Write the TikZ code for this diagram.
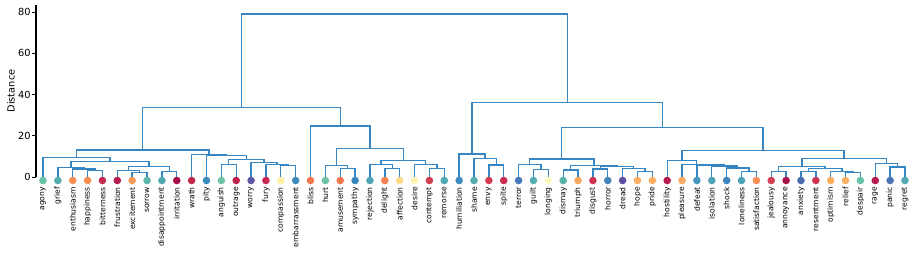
\documentclass[tikz,border=0pt]{standalone}
\usepackage{fontspec}
\setmainfont{DejaVu Sans}
\usetikzlibrary{calc}
\definecolor{linkblue}{HTML}{3586C2}
\begin{document}
\begin{tikzpicture}[x=14.862pt, y=2.0625pt,
        link/.style={linkblue, line width=1.35pt},
        leafdot/.style={circle, inner sep=0pt, minimum size=7.6pt},
        leaflabel/.style={rotate=90, anchor=east, inner sep=0pt, font=\fontsize{7.6}{9}\selectfont},
        ticklabel/.style={anchor=east, inner sep=0pt, font=\fontsize{9.8}{11}\selectfont}]
        \useasboundingbox (-43pt,-75pt) rectangle (875pt,177pt);
        % Draw the distance axis
        \draw[line width=1.2pt] ([xshift=-7pt]0,0) -- ([xshift=-7pt]0,83.4);
        \foreach \t in {0,20,...,80}
            \draw[line width=0.9pt] ([xshift=-7pt]0,\t) -- ([xshift=-10.5pt]0,\t) node[ticklabel, xshift=-1.5pt] (tick\t) {\t};
        \node[rotate=90, font=\fontsize{9.8}{11}\selectfont] (axislabel) at ([xshift=-32pt]0,41.7) {Distance};
        % Draw the leaves
        \foreach \w/\col [count=\i from 0] in {agony/66C2A5, grief/54AEAE, enthusiasm/F98E52, happiness/F98E52,
            bitterness/C2294E, frustration/B81B4D, excitement/FB9A57, sorrow/5BB8A8, disappointment/4EA8B0,
            irritation/A50E46, wrath/C2264F, pity/3A8CBD, anguish/6CC4A5, outrage/BE214E, worry/5E57A6,
            fury/C8284F, compassion/FEF1A6, embarrassment/3C8BBD, bliss/F4764A, hurt/6CC4A5, amusement/F47A4C,
            sympathy/3A86BE, rejection/4EA6B4, delight/F6804E, affection/FDD98A, desire/FFF5B0, contempt/D23C50,
            remorse/4FAAB3, humiliation/3A8BBE, shame/55ADB0, envy/D43D51, spite/C92D50, terror/4579B8,
            guilt/55ADB0, longing/FDFCC0, dismay/5AB3AA, triumph/FCA55F, disgust/CF3550, horror/4482BA,
            dread/5E4FA2, hope/FDAE61, pride/FDAE61, hostility/B81B4D, pleasure/FCA962, defeat/4797BB,
            isolation/4EA6B4, shock/3F84BC, loneliness/4AA2B6, satisfaction/F98D56, jealousy/D43E52,
            annoyance/A91249, anxiety/4D6DB1, resentment/CD3451, optimism/FDAE61, relief/FDB164,
            despair/66C2A5, rage/B81B4D, panic/4A74B5, regret/52ABB1}{
            \definecolor{leafcol}{HTML}{\col}
            \coordinate (\w) at (\i,0);
            \node[leafdot, fill=leafcol] (\w-dot) at ([yshift=-3.5pt]\w) {};
            \node[leaflabel] (\w-label) at ([yshift=-10pt]\w) {\w};
        }
        % Draw the merges, lower ones first
        \foreach \mg/\ca/\cb/\lv in {m1/happiness/bitterness/3.1, m2/enthusiasm/m1/3.9, m3/grief/m2/4.7,
            m4/excitement/sorrow/2.3, m5/frustration/m4/3.1, m6/disappointment/irritation/2.6, m7/m5/m6/5.0,
            m8/m3/m7/7.6, m9/agony/m8/9.4, m10/compassion/embarrassment/5.5, m11/fury/m10/6.2,
            m12/worry/m11/7.1, m13/anguish/outrage/6.0, m14/m13/m12/8.6, m15/pity/m14/10.3,
            m16/wrath/m15/11.0, m17/m9/m16/13.1, m18/amusement/sympathy/4.0, m19/hurt/m18/5.5,
            m20/delight/affection/4.2, m21/rejection/m20/6.1, m22/contempt/remorse/4.2, m23/desire/m22/6.2,
            m24/m21/m23/7.9, m25/m19/m24/13.9, m26/bliss/m25/24.7, m27/m17/m26/33.6,
            m28/envy/spite/5.8, m29/shame/m28/9.0, m30/humiliation/m29/11.1,
            m31/guilt/longing/3.6, m32/terror/m31/6.0, m33/dismay/triumph/3.4, m34/disgust/horror/3.9,
            m35/hope/pride/2.6, m36/dread/m35/4.2, m37/m34/m36/5.2, m38/m33/m37/5.7, m39/m32/m38/8.8,
            m40/loneliness/satisfaction/2.6, m41/shock/m40/4.4, m42/isolation/m41/5.3, m43/defeat/m42/5.8,
            m44/pleasure/m43/6.2, m45/hostility/m44/7.9, m46/jealousy/annoyance/2.6,
            m47/anxiety/resentment/2.6, m48/relief/despair/2.2, m49/optimism/m48/2.8, m50/m47/m49/4.0,
            m51/m46/m50/5.0, m52/panic/regret/4.8, m53/rage/m52/6.5, m54/m51/m53/9.0, m55/m45/m54/12.8,
            m56/m39/m55/24.1, m57/m30/m56/36.0, m58/m27/m57/79.0}{
            \coordinate (mid) at ($(\ca)!0.5!(\cb)$);
            \coordinate (lev) at (0,\lv);
            \coordinate (\mg) at (mid |- lev);
            \draw[link] (\ca) |- (\mg) -| (\cb);
        }
    \end{tikzpicture}
\end{document}
